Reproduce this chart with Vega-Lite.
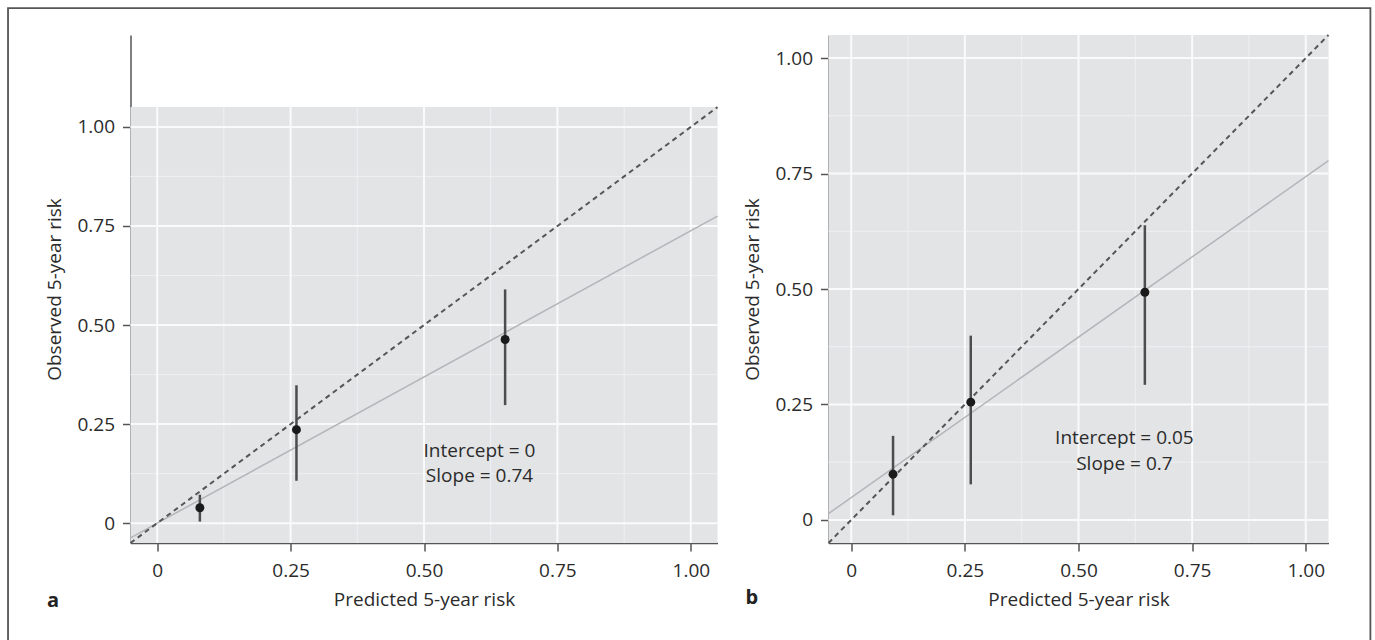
{
  "$schema": "https://vega.github.io/schema/vega-lite/v6.json",
  "background": "white",
  "padding": {"left": 6.5, "top": 7, "right": 0, "bottom": 0},
  "bounds": "flush",
  "spacing": 111,
  "config": {
    "font": "Open Sans",
    "view": {"stroke": null},
    "axis": {
      "domainColor": "#555555", "domainWidth": 1.5,
      "tickColor": "#555555", "tickWidth": 1.5, "tickSize": 8,
      "labelColor": "#2b2b2b", "labelFontSize": 19, "labelFont": "Open Sans",
      "titleColor": "#2b2b2b", "titleFontSize": 19, "titleFont": "Open Sans", "titleFontWeight": "normal",
      "grid": false, "labelFlush": false
    },
    "axisX": {"labelPadding": 10, "titlePadding": 10},
    "axisY": {"labelPadding": 8, "titlePadding": 12}
  },
  "datasets": {
    "gridMajor": [{"v": 0}, {"v": 0.25}, {"v": 0.5}, {"v": 0.75}, {"v": 1}],
    "gridMinor": [{"v": 0.125}, {"v": 0.375}, {"v": 0.625}, {"v": 0.875}],
    "bg": [{"x1": -0.05, "x2": 1.05, "y1": -0.05, "y2": 1.05}],
    "diag": [{"x": -0.05, "y": -0.05}, {"x": 1.05, "y": 1.05}],
    "calA": [{"x": -0.05, "y": -0.037}, {"x": 1.05, "y": 0.775}],
    "calB": [{"x": -0.05, "y": 0.0136}, {"x": 1.05, "y": 0.778}],
    "ptsA": [
      {"x": 0.08, "y": 0.039, "lo": 0.004, "hi": 0.072},
      {"x": 0.261, "y": 0.236, "lo": 0.107, "hi": 0.348},
      {"x": 0.652, "y": 0.4635, "lo": 0.298, "hi": 0.59}
    ],
    "ptsB": [
      {"x": 0.092, "y": 0.099, "lo": 0.01, "hi": 0.182},
      {"x": 0.263, "y": 0.255, "lo": 0.077, "hi": 0.399},
      {"x": 0.646, "y": 0.493, "lo": 0.2925, "hi": 0.638}
    ],
    "annA": [
      {"x": 0.604, "y": 0.167, "t": "Intercept = 0"},
      {"x": 0.604, "y": 0.103, "t": "Slope = 0.74"}
    ],
    "annB": [
      {"x": 0.601, "y": 0.165, "t": "Intercept = 0.05"},
      {"x": 0.601, "y": 0.109, "t": "Slope = 0.7"}
    ],
    "labA": [{"x": -0.2064, "y": -0.211, "t": "a"}],
    "labB": [{"x": -0.2328, "y": -0.183, "t": "b"}],
    "frame": [{"x1": -0.2795, "x2": 2.2735, "y1": 1.3, "y2": -0.33}]
  },
  "hconcat": [
    {
      "width": 587,
      "height": 508,
      "layer": [
        {
          "data": {"name": "bg"},
          "mark": {"type": "rect", "fill": "#e3e4e6"},
          "encoding": {
            "x": {"field": "x1", "type": "quantitative",
              "scale": {"domain": [-0.05, 1.05], "nice": false, "zero": false},
              "axis": {"title": "Predicted 5-year risk", "values": [0, 0.25, 0.5, 0.75, 1],
                "labelExpr": "datum.value === 0 ? '0' : format(datum.value, '.2f')"}},
            "x2": {"field": "x2"},
            "y": {"field": "y1", "type": "quantitative",
              "scale": {"domain": [-0.05, 1.232], "nice": false, "zero": false},
              "axis": {"title": "Observed 5-year risk", "values": [0, 0.25, 0.5, 0.75, 1],
                "labelExpr": "datum.value === 0 ? '0' : format(datum.value, '.2f')"}},
            "y2": {"field": "y2"}
          }
        },
        {
          "data": {"name": "gridMinor"},
          "mark": {"type": "rule", "color": "#eff0f2", "strokeWidth": 1},
          "encoding": {"x": {"field": "v", "type": "quantitative"}, "y": {"datum": -0.05}, "y2": {"datum": 1.05}}
        },
        {
          "data": {"name": "gridMinor"},
          "mark": {"type": "rule", "color": "#eff0f2", "strokeWidth": 1},
          "encoding": {"y": {"field": "v", "type": "quantitative"}, "x": {"datum": -0.05}, "x2": {"datum": 1.05}}
        },
        {
          "data": {"name": "gridMajor"},
          "mark": {"type": "rule", "color": "#fafafa", "strokeWidth": 2},
          "encoding": {"x": {"field": "v", "type": "quantitative"}, "y": {"datum": -0.05}, "y2": {"datum": 1.05}}
        },
        {
          "data": {"name": "gridMajor"},
          "mark": {"type": "rule", "color": "#fafafa", "strokeWidth": 2},
          "encoding": {"y": {"field": "v", "type": "quantitative"}, "x": {"datum": -0.05}, "x2": {"datum": 1.05}}
        },
        {
          "data": {"name": "calA"},
          "mark": {"type": "line", "color": "#b4b5b8", "strokeWidth": 1.5},
          "encoding": {"x": {"field": "x", "type": "quantitative"}, "y": {"field": "y", "type": "quantitative"}}
        },
        {
          "data": {"name": "diag"},
          "mark": {"type": "line", "color": "#555555", "strokeWidth": 2, "strokeDash": [5, 4]},
          "encoding": {"x": {"field": "x", "type": "quantitative"}, "y": {"field": "y", "type": "quantitative"}}
        },
        {
          "data": {"name": "ptsA"},
          "mark": {"type": "rule", "color": "#4d4d4d", "strokeWidth": 2.5},
          "encoding": {"x": {"field": "x", "type": "quantitative"}, "y": {"field": "lo", "type": "quantitative"}, "y2": {"field": "hi"}}
        },
        {
          "data": {"name": "ptsA"},
          "mark": {"type": "circle", "color": "#1a1a1a", "size": 80, "opacity": 1},
          "encoding": {"x": {"field": "x", "type": "quantitative"}, "y": {"field": "y", "type": "quantitative"}}
        },
        {
          "data": {"name": "annA"},
          "mark": {"type": "text", "fontSize": 19, "color": "#2b2b2b", "align": "center", "baseline": "alphabetic"},
          "encoding": {"x": {"field": "x", "type": "quantitative"}, "y": {"field": "y", "type": "quantitative"}, "text": {"field": "t"}}
        },
        {
          "data": {"name": "labA"},
          "mark": {"type": "text", "fontSize": 20, "fontWeight": "bold", "color": "#222222", "align": "left", "baseline": "alphabetic", "clip": false},
          "encoding": {"x": {"field": "x", "type": "quantitative"}, "y": {"field": "y", "type": "quantitative"}, "text": {"field": "t"}}
        },
        {
          "data": {"name": "frame"},
          "mark": {"type": "rect", "fillOpacity": 0, "stroke": "#555555", "strokeWidth": 1.8, "clip": false},
          "encoding": {"x": {"field": "x1", "type": "quantitative"}, "x2": {"field": "x2"}, "y": {"field": "y1", "type": "quantitative"}, "y2": {"field": "y2"}}
        }
      ]
    },
    {
      "width": 500,
      "height": 508,
      "layer": [
        {
          "data": {"name": "bg"},
          "mark": {"type": "rect", "fill": "#e3e4e6"},
          "encoding": {
            "x": {"field": "x1", "type": "quantitative",
              "scale": {"domain": [-0.05, 1.05], "nice": false, "zero": false},
              "axis": {"title": "Predicted 5-year risk", "values": [0, 0.25, 0.5, 0.75, 1],
                "labelExpr": "datum.value === 0 ? '0' : format(datum.value, '.2f')"}},
            "x2": {"field": "x2"},
            "y": {"field": "y1", "type": "quantitative",
              "scale": {"domain": [-0.05, 1.05], "nice": false, "zero": false},
              "axis": {"title": "Observed 5-year risk", "values": [0, 0.25, 0.5, 0.75, 1],
                "labelExpr": "datum.value === 0 ? '0' : format(datum.value, '.2f')"}},
            "y2": {"field": "y2"}
          }
        },
        {
          "data": {"name": "gridMinor"},
          "mark": {"type": "rule", "color": "#eff0f2", "strokeWidth": 1},
          "encoding": {"x": {"field": "v", "type": "quantitative"}, "y": {"datum": -0.05}, "y2": {"datum": 1.05}}
        },
        {
          "data": {"name": "gridMinor"},
          "mark": {"type": "rule", "color": "#eff0f2", "strokeWidth": 1},
          "encoding": {"y": {"field": "v", "type": "quantitative"}, "x": {"datum": -0.05}, "x2": {"datum": 1.05}}
        },
        {
          "data": {"name": "gridMajor"},
          "mark": {"type": "rule", "color": "#fafafa", "strokeWidth": 2},
          "encoding": {"x": {"field": "v", "type": "quantitative"}, "y": {"datum": -0.05}, "y2": {"datum": 1.05}}
        },
        {
          "data": {"name": "gridMajor"},
          "mark": {"type": "rule", "color": "#fafafa", "strokeWidth": 2},
          "encoding": {"y": {"field": "v", "type": "quantitative"}, "x": {"datum": -0.05}, "x2": {"datum": 1.05}}
        },
        {
          "data": {"name": "calB"},
          "mark": {"type": "line", "color": "#b4b5b8", "strokeWidth": 1.5},
          "encoding": {"x": {"field": "x", "type": "quantitative"}, "y": {"field": "y", "type": "quantitative"}}
        },
        {
          "data": {"name": "diag"},
          "mark": {"type": "line", "color": "#555555", "strokeWidth": 2, "strokeDash": [5, 4]},
          "encoding": {"x": {"field": "x", "type": "quantitative"}, "y": {"field": "y", "type": "quantitative"}}
        },
        {
          "data": {"name": "ptsB"},
          "mark": {"type": "rule", "color": "#4d4d4d", "strokeWidth": 2.5},
          "encoding": {"x": {"field": "x", "type": "quantitative"}, "y": {"field": "lo", "type": "quantitative"}, "y2": {"field": "hi"}}
        },
        {
          "data": {"name": "ptsB"},
          "mark": {"type": "circle", "color": "#1a1a1a", "size": 80, "opacity": 1},
          "encoding": {"x": {"field": "x", "type": "quantitative"}, "y": {"field": "y", "type": "quantitative"}}
        },
        {
          "data": {"name": "annB"},
          "mark": {"type": "text", "fontSize": 19, "color": "#2b2b2b", "align": "center", "baseline": "alphabetic"},
          "encoding": {"x": {"field": "x", "type": "quantitative"}, "y": {"field": "y", "type": "quantitative"}, "text": {"field": "t"}}
        },
        {
          "data": {"name": "labB"},
          "mark": {"type": "text", "fontSize": 20, "fontWeight": "bold", "color": "#222222", "align": "left", "baseline": "alphabetic", "clip": false},
          "encoding": {"x": {"field": "x", "type": "quantitative"}, "y": {"field": "y", "type": "quantitative"}, "text": {"field": "t"}}
        }
      ]
    }
  ]
}
